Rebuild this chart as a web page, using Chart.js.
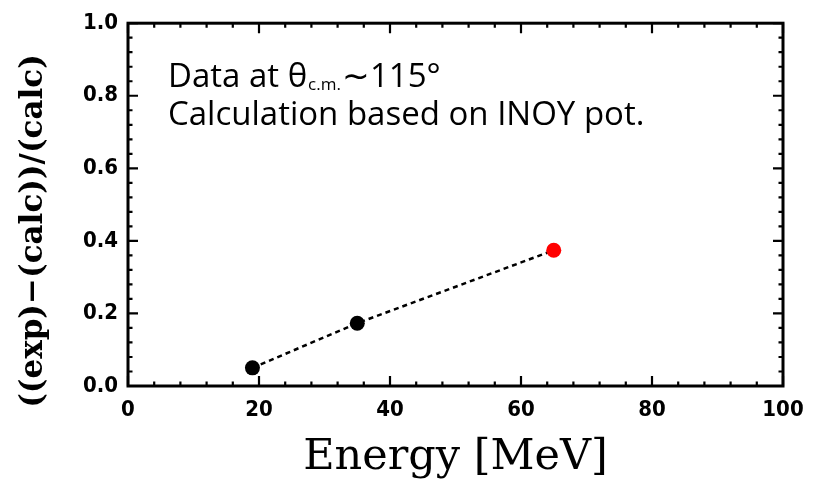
<!DOCTYPE html>
<html>
<head>
<meta charset="utf-8">
<script src="https://cdn.jsdelivr.net/npm/chart.js@4.4.1/dist/chart.umd.min.js"></script>
<style>
  html, body { margin: 0; padding: 0; background: #fff; }
  #wrap { width: 816px; height: 486px; }
</style>
</head>
<body>
<div id="wrap"><canvas id="c" width="816" height="486"></canvas></div>
<script>
// Beam energies (MeV) and relative deviation of data from calculation
const energies = [19, 35, 65];
const ratios = [0.05, 0.173, 0.374];
const pointColors = ['#000000', '#000000', '#ff0000'];

// Axis tick values
const xTicks = [0, 20, 40, 60, 80, 100];
const yTicks = [0.0, 0.2, 0.4, 0.6, 0.8, 1.0];

const xTitle = 'Energy [MeV]';
const yTitle = '((exp)−(calc))/(calc)';
const annotationLine1 = ['Data at θ', 'c.m.', '∼115°'];
const annotationLine2 = 'Calculation based on INOY pot.';

// Frame on all four sides with inward major/minor ticks, y title and annotation
const framePlugin = {
  id: 'frameTicks',
  afterDraw(chart) {
    const { ctx, chartArea: a, scales } = chart;
    const xs = scales.x, ys = scales.y;
    ctx.save();
    ctx.strokeStyle = '#000';
    ctx.lineCap = 'butt';
    ctx.lineWidth = 2.2;
    for (let i = 0; i <= 25; i++) {
      const px = xs.getPixelForValue(i * 4);
      const len = (i % 5 === 0) ? 10 : 4.5;
      ctx.beginPath();
      ctx.moveTo(px, a.bottom); ctx.lineTo(px, a.bottom - len);
      ctx.moveTo(px, a.top); ctx.lineTo(px, a.top + len);
      ctx.stroke();
    }
    for (let i = 0; i <= 25; i++) {
      const py = ys.getPixelForValue(i * 0.04);
      const len = (i % 5 === 0) ? 10 : 4.5;
      ctx.beginPath();
      ctx.moveTo(a.left, py); ctx.lineTo(a.left + len, py);
      ctx.moveTo(a.right, py); ctx.lineTo(a.right - len, py);
      ctx.stroke();
    }
    ctx.lineWidth = 3;
    ctx.strokeRect(a.left, a.top, a.right - a.left, a.bottom - a.top);

    // vertical axis title
    ctx.fillStyle = '#000';
    ctx.save();
    ctx.translate(34, 231);
    ctx.rotate(-Math.PI / 2);
    ctx.font = 'bold 31px "DejaVu Serif", serif';
    ctx.textAlign = 'center';
    ctx.textBaseline = 'middle';
    ctx.fillText(yTitle, 0, 0);
    ctx.restore();

    // annotation text
    ctx.textBaseline = 'alphabetic';
    ctx.textAlign = 'left';
    const x0 = a.left + 40;
    const big = '33px "Open Sans", Lato, sans-serif';
    const small = '17px "Open Sans", Lato, sans-serif';
    let x = x0;
    const y1 = 87;
    ctx.font = big;
    ctx.fillText(annotationLine1[0], x, y1);
    x += ctx.measureText(annotationLine1[0]).width + 1;
    ctx.font = small;
    ctx.fillText(annotationLine1[1], x, y1 + 3);
    x += ctx.measureText(annotationLine1[1]).width + 1;
    ctx.font = big;
    ctx.fillText(annotationLine1[2], x, y1);
    ctx.fillText(annotationLine2, x0, y1 + 38);
    ctx.restore();
  }
};

const chart = new Chart(document.getElementById('c'), {
  type: 'scatter',
  data: {
    datasets: [{
      data: energies.map((e, i) => ({ x: e, y: ratios[i] })),
      showLine: true,
      borderColor: '#000',
      borderWidth: 2.5,
      borderDash: [5, 4],
      pointRadius: 7.5,
      pointHoverRadius: 7.5,
      pointBackgroundColor: pointColors,
      pointBorderColor: pointColors,
      pointBorderWidth: 0
    }]
  },
  options: {
    responsive: false,
    animation: false,
    events: [],
    layout: { padding: { top: 14, right: 33, left: 0, bottom: 0 } },
    plugins: { legend: { display: false }, tooltip: { enabled: false } },
    scales: {
      x: {
        type: 'linear',
        min: 0, max: 100,
        afterBuildTicks(scale) { scale.ticks = xTicks.map(v => ({ value: v })); },
        afterFit(scale) { scale.height = 100; },
        grid: { display: false, drawTicks: false },
        border: { display: false },
        ticks: {
          color: '#000',
          padding: 11,
          maxRotation: 0,
          font: { family: '"DejaVu Sans Condensed", "DejaVu Sans", sans-serif', size: 22, weight: 'bold' },
          callback: v => String(v)
        },
        title: {
          display: true,
          text: xTitle,
          color: '#000',
          padding: { top: 0, bottom: 2 },
          font: { family: '"DejaVu Serif", serif', size: 43, weight: 'normal' }
        }
      },
      y: {
        type: 'linear',
        min: 0, max: 1,
        afterBuildTicks(scale) { scale.ticks = yTicks.map(v => ({ value: v })); },
        afterFit(scale) { scale.width = 128; },
        grid: { display: false, drawTicks: false },
        border: { display: false },
        ticks: {
          color: '#000',
          padding: 10,
          font: { family: '"DejaVu Sans Condensed", "DejaVu Sans", sans-serif', size: 22, weight: 'bold' },
          callback: v => Number(v).toFixed(1)
        },
        title: { display: false }
      }
    }
  },
  plugins: [framePlugin]
});
</script>
</body>
</html>
